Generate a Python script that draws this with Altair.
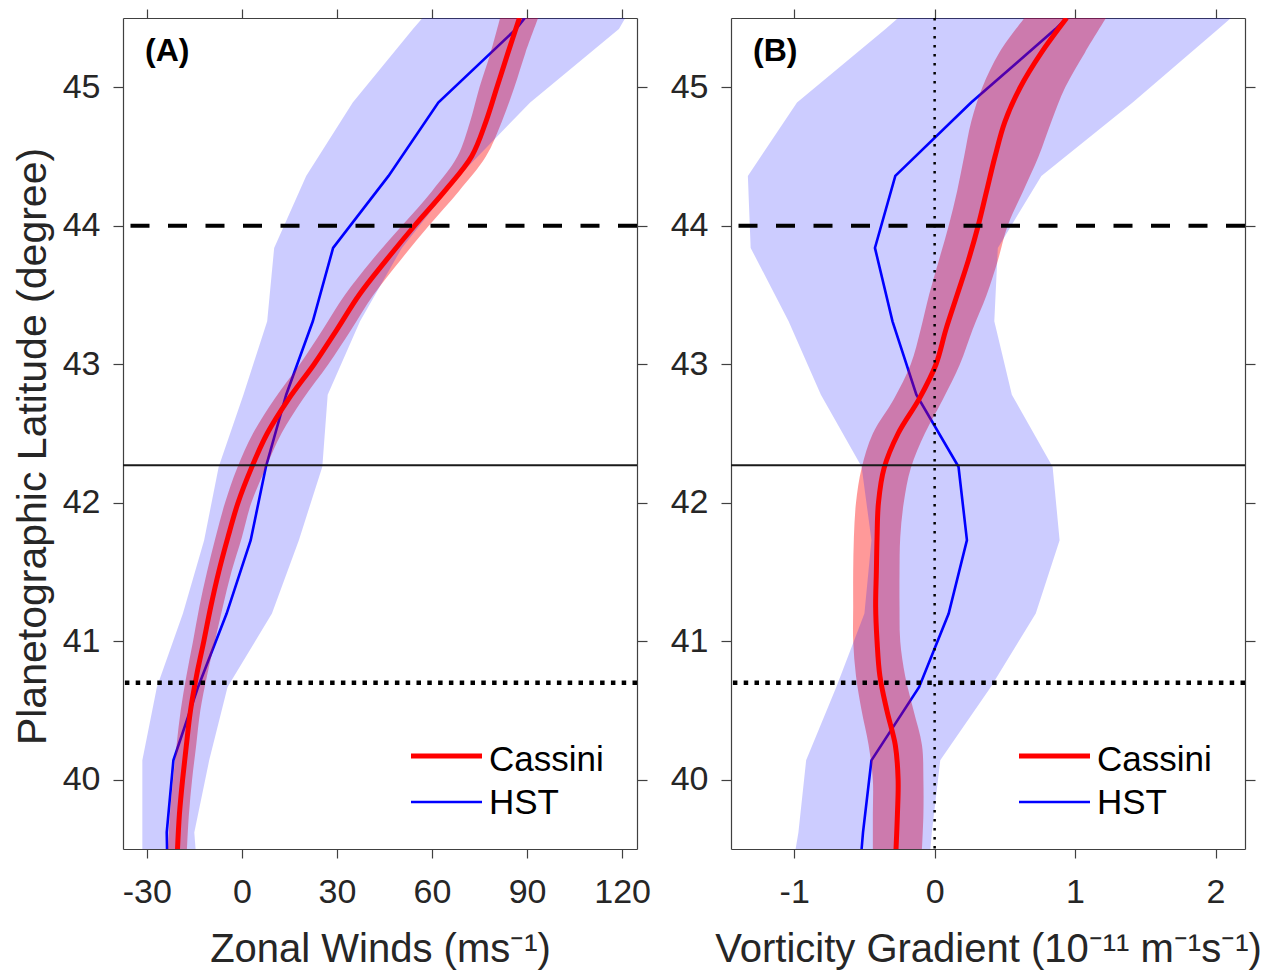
import altair as alt
import pandas as pd

FONT = "Liberation Sans"
TXT = "#262626"

# ---------------- data ----------------
# Cassini profiles (dense sampling)
lat_cassini = [45.5, 45.25, 45.0, 44.75, 44.5, 44.25, 44.0, 43.75, 43.5, 43.25, 43.0,
               42.75, 42.5, 42.25, 42.0, 41.75, 41.5, 41.25, 41.0, 40.75, 40.5, 40.25,
               40.0, 39.75, 39.5]
cassini_wind = [87.6, 84.0, 80.5, 77.0, 72.5, 64.0, 54.5, 45.5, 37.0, 30.0, 22.8,
                14.8, 8.0, 3.0, -1.2, -4.4, -7.3, -9.8, -12.0, -14.3, -16.2, -17.5,
                -18.7, -19.7, -20.3]
cassini_wind_lo = [81.5, 78.5, 75.0, 72.0, 68.0, 60.0, 50.5, 41.0, 32.5, 25.5, 18.3,
                   10.3, 3.5, -1.5, -5.3, -8.3, -11.0, -13.4, -15.4, -17.5, -19.3, -20.6,
                   -21.7, -22.7, -23.3]
cassini_wind_hi = [93.5, 89.5, 86.0, 82.0, 77.0, 68.5, 59.0, 50.0, 41.5, 34.5, 27.3,
                   19.3, 12.5, 7.5, 3.0, 0.0, -3.3, -6.0, -8.5, -11.0, -13.1, -14.4,
                   -15.7, -16.7, -17.3]
cassini_vort = [0.94, 0.76, 0.61, 0.50, 0.43, 0.37, 0.31, 0.24, 0.16, 0.08, 0.01,
                -0.11, -0.26, -0.36, -0.40, -0.41, -0.415, -0.42, -0.41, -0.39, -0.34, -0.28,
                -0.26, -0.265, -0.275]
cassini_vort_lo = [0.64, 0.46, 0.34, 0.26, 0.21, 0.16, 0.10, 0.03, -0.04, -0.10, -0.17,
                   -0.29, -0.44, -0.52, -0.56, -0.575, -0.58, -0.58, -0.58, -0.56, -0.52, -0.47,
                   -0.44, -0.44, -0.44]
cassini_vort_hi = [1.22, 1.07, 0.93, 0.83, 0.74, 0.63, 0.52, 0.45, 0.37, 0.27, 0.18,
                   0.06, -0.07, -0.17, -0.22, -0.245, -0.25, -0.25, -0.245, -0.21, -0.15, -0.09,
                   -0.08, -0.08, -0.09]

# HST profiles (coarse sampling)
lat_hst = [45.5, 45.42, 44.89, 44.36, 43.84, 43.31, 42.78, 42.26, 41.73, 41.2, 40.67,
           40.14, 39.62, 39.5]
hst_wind = [89.3, 86.5, 62.0, 46.3, 28.8, 22.4, 14.0, 7.6, 2.8, -4.8, -13.8,
            -21.6, -23.7, -23.6]
hst_wind_lo = [57.0, 54.0, 35.0, 20.3, 10.2, 8.0, 0.5, -7.3, -11.9, -18.6, -26.8,
               -31.4, -31.4, -31.4]
hst_wind_hi = [121.0, 119.0, 91.0, 68.5, 50.5, 37.3, 27.1, 25.4, 18.0, 9.5, -4.5,
               -10.3, -15.0, -14.6]
hst_vort = [0.94, 0.86, 0.26, -0.28, -0.425, -0.30, -0.13, 0.17, 0.23, 0.10, -0.11,
            -0.45, -0.51, -0.52]
hst_vort_lo = [-0.26, -0.35, -0.98, -1.33, -1.31, -1.04, -0.81, -0.52, -0.45, -0.50, -0.70,
               -0.915, -0.97, -0.99]
hst_vort_hi = [2.11, 2.02, 1.41, 0.76, 0.45, 0.425, 0.55, 0.84, 0.89, 0.72, 0.40,
               0.04, -0.02, -0.03]

# reference lines
lat_dashed = [44.0]
lat_solid = [42.27]
lat_dotted = [40.7]
zero_line = [0.0]

# ticks / labels
y_ticks = [40, 41, 42, 43, 44, 45]
x_ticks_a = [-30, 0, 30, 60, 90, 120]
x_ticks_b = [-1, 0, 1, 2]
y_title = "Planetographic Latitude (degree)"
x_title_a = "Zonal Winds (ms\u207b\u00b9)"
x_title_b = "Vorticity Gradient (10\u207b\u00b9\u00b9 m\u207b\u00b9s\u207b\u00b9)"
legend_names = ["Cassini", "HST"]

Y_DOM = [39.5, 45.5]
XA_DOM = [-37.5, 124.7]
XB_DOM = [-1.45, 2.21]
W, H = 514, 831


def panel(x_dom, x_ticks, x_title, show_ytitle, label,
          h_x, h_lo, h_hi, c_x, c_lo, c_hi, with_zero):
    xs = alt.Scale(domain=x_dom, nice=False, zero=False)
    ys = alt.Scale(domain=Y_DOM, nice=False, zero=False)

    x_axis = alt.Axis(values=x_ticks, title=x_title, grid=False, tickSize=9,
                      labelPadding=44, labelBaseline="alphabetic",
                      labelExpr="'' + datum.value",
                      titleBaseline="alphabetic", titleY=112, titleFontSize=40)
    y_kwargs = dict(values=y_ticks, grid=False, tickSize=10, labelPadding=13,
                    labelExpr="'' + datum.value")
    if show_ytitle:
        y_axis = alt.Axis(title=y_title, titleBaseline="alphabetic", titleX=-78,
                          titleY=428, titleFontSize=41, **y_kwargs)
    else:
        y_axis = alt.Axis(title=None, **y_kwargs)

    hst = pd.DataFrame({"lat": lat_hst, "x": h_x, "lo": h_lo, "hi": h_hi})
    cas = pd.DataFrame({"lat": lat_cassini, "x": c_x, "lo": c_lo, "hi": c_hi})

    hst_line = alt.Chart(hst).mark_line(color="#0000FF", strokeWidth=2.6, clip=True).encode(
        y=alt.Y("lat:Q", scale=ys, axis=y_axis),
        x=alt.X("x:Q", scale=xs, axis=x_axis),
        order="lat:Q",
    )
    cas_band = alt.Chart(cas).mark_area(orient="horizontal", color="#FF0000", opacity=0.4,
                                        interpolate="catmull-rom", clip=True).encode(
        y=alt.Y("lat:Q", scale=ys, axis=None),
        x=alt.X("lo:Q", scale=xs, axis=None),
        x2="hi:Q",
    )
    hst_band = alt.Chart(hst).mark_area(orient="horizontal", color="#0000FF",
                                        opacity=0.2, clip=True).encode(
        y=alt.Y("lat:Q", scale=ys, axis=None),
        x=alt.X("lo:Q", scale=xs, axis=None),
        x2="hi:Q",
    )
    cas_line = alt.Chart(cas).mark_line(color="#FF0000", strokeWidth=5,
                                        interpolate="catmull-rom", clip=True).encode(
        y=alt.Y("lat:Q", scale=ys, axis=None),
        x=alt.X("x:Q", scale=xs, axis=None),
        order="lat:Q",
    )
    dashed = alt.Chart(pd.DataFrame({"lat": lat_dashed})).mark_rule(
        color="black", strokeWidth=4, strokeDash=[19, 18.5]).encode(
        y=alt.Y("lat:Q", scale=ys, axis=None))
    solid = alt.Chart(pd.DataFrame({"lat": lat_solid})).mark_rule(
        color="#1a1a1a", strokeWidth=2).encode(
        y=alt.Y("lat:Q", scale=ys, axis=None))
    dotted = alt.Chart(pd.DataFrame({"lat": lat_dotted})).mark_rule(
        color="black", strokeWidth=4.5, strokeDash=[4.5, 6.3]).encode(
        y=alt.Y("lat:Q", scale=ys, axis=None))

    # mirrored (top/right) axes: ticks + frame only
    frame = alt.Chart(pd.DataFrame({"lat": [Y_DOM[0]], "x": [x_dom[0]]})).mark_point(
        opacity=0, size=0).encode(
        x=alt.X("x:Q", scale=xs, axis=alt.Axis(orient="top", values=x_ticks, labels=False,
                                               title=None, grid=False, tickSize=9)),
        y=alt.Y("lat:Q", scale=ys, axis=alt.Axis(orient="right", values=y_ticks, labels=False,
                                                 title=None, grid=False, tickSize=10)),
    )

    lab = alt.Chart(pd.DataFrame({"t": [label]})).mark_text(
        font=FONT, fontSize=32, fontWeight="bold", align="left", baseline="alphabetic",
        color="black").encode(x=alt.value(22), y=alt.value(43), text="t:N")

    leg_r = alt.Chart(pd.DataFrame({"n": [legend_names[0]]})).mark_rule(
        color="#FF0000", strokeWidth=5).encode(
        x=alt.value(288), x2=alt.value(359), y=alt.value(738))
    leg_b = alt.Chart(pd.DataFrame({"n": [legend_names[1]]})).mark_rule(
        color="#0000FF", strokeWidth=2.6).encode(
        x=alt.value(288), x2=alt.value(359), y=alt.value(784))
    leg_tr = alt.Chart(pd.DataFrame({"n": [legend_names[0]]})).mark_text(
        font=FONT, fontSize=35, align="left", baseline="alphabetic", color="black").encode(
        x=alt.value(366), y=alt.value(753), text="n:N")
    leg_tb = alt.Chart(pd.DataFrame({"n": [legend_names[1]]})).mark_text(
        font=FONT, fontSize=35, align="left", baseline="alphabetic", color="black").encode(
        x=alt.value(366), y=alt.value(796), text="n:N")

    layers = [hst_line, cas_band, hst_band, cas_line, dashed, solid, dotted]
    if with_zero:
        zl = alt.Chart(pd.DataFrame({"x": zero_line})).mark_rule(
            color="black", strokeWidth=2.5, strokeDash=[2.5, 6.5]).encode(
            x=alt.X("x:Q", scale=xs, axis=None))
        layers.append(zl)
    layers += [frame, lab, leg_r, leg_b, leg_tr, leg_tb]

    return alt.layer(*layers).resolve_axis(x="independent", y="independent").properties(
        width=W, height=H)


pa = panel(XA_DOM, x_ticks_a, x_title_a, True, "(A)",
           hst_wind, hst_wind_lo, hst_wind_hi,
           cassini_wind, cassini_wind_lo, cassini_wind_hi, False)
pb = panel(XB_DOM, x_ticks_b, x_title_b, False, "(B)",
           hst_vort, hst_vort_lo, hst_vort_hi,
           cassini_vort, cassini_vort_lo, cassini_vort_hi, True)

chart = alt.hconcat(pa, pb, spacing=94, bounds="flush").properties(
    padding={"left": 12, "top": 8, "right": 4, "bottom": 4},
    background="white",
).configure_view(stroke=None).configure_axis(
    labelFont=FONT, titleFont=FONT, labelFontSize=34, labelColor=TXT, titleColor=TXT,
    titleFontWeight="normal", domainColor="#404040", tickColor="#404040",
    domainWidth=1.2, tickWidth=1.2,
)

chart.save("out.html", embed_options={"renderer": "svg", "actions": False})
